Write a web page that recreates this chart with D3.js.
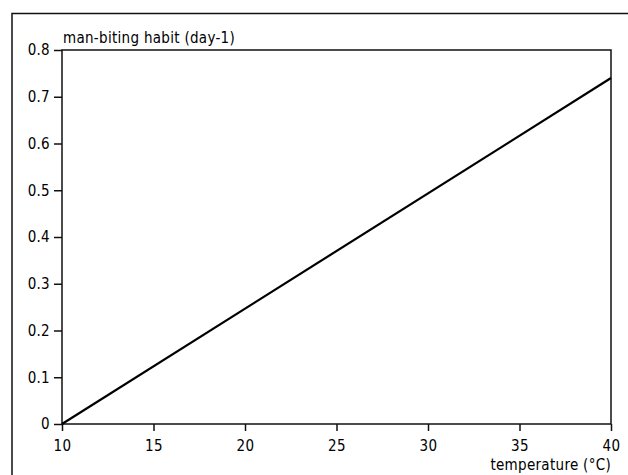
<!DOCTYPE html>
<html>
<head>
<meta charset="utf-8">
<script src="https://cdn.jsdelivr.net/npm/d3@7"></script>
<style>
  body { margin: 0; background: #fff; }
  svg text { font-family: "DejaVu Sans Condensed", "DejaVu Sans", sans-serif; font-stretch: condensed; font-size: 15px; letter-spacing: 0.3px; fill: #000; }
  .axis path { display: none; }
  .axis line { stroke: #111; stroke-width: 1.5px; }
</style>
</head>
<body>
<script>
(function () {

    //chart data
    var temperature = [10, 40];
    var bitingRate = [0, 0.74];
    var xTicks = [10, 15, 20, 25, 30, 35, 40];
    var yTicks = [0, 0.1, 0.2, 0.3, 0.4, 0.5, 0.6, 0.7, 0.8];
    var yTitle = "man-biting habit (day-1)";
    var xTitle = "temperature (°C)";

    var width = 628, height = 475;
    var margin = {left: 62, top: 50, right: 17, bottom: 51};
    var innerWidth = width - margin.left - margin.right,
        innerHeight = height - margin.top - margin.bottom;

    var svg = d3.select("body")
        .append("svg")
        .attr("width", width)
        .attr("height", height);

    //outer frame (left and top edges only)
    svg.append("path")
        .attr("d", "M12,475V13.5H628")
        .attr("fill", "none")
        .attr("stroke", "#111")
        .attr("stroke-width", 1.5);

    var g = svg.append("g")
        .attr("transform", "translate(" + margin.left + "," + margin.top + ")");

    var x = d3.scaleLinear().domain([10, 40]).range([0, innerWidth]);
    var y = d3.scaleLinear().domain([0, 0.8]).range([innerHeight, 0]);

    //axes
    g.append("g")
        .attr("class", "axis")
        .attr("transform", "translate(0," + innerHeight + ")")
        .call(d3.axisBottom(x).tickValues(xTicks).tickSize(7).tickPadding(9).tickFormat(d3.format("d")));

    g.append("g")
        .attr("class", "axis")
        .call(d3.axisLeft(y).tickValues(yTicks).tickSize(8).tickPadding(4).tickFormat(function (d) {
            return d === 0 ? "0" : d3.format(".1f")(d);
        }));

    g.selectAll(".axis text").attr("fill", "#000");

    //plot frame
    g.append("rect")
        .attr("width", innerWidth)
        .attr("height", innerHeight)
        .attr("fill", "none")
        .attr("stroke", "#111")
        .attr("stroke-width", 1.5);

    //the line
    var line = d3.line()
        .x(function (d) { return x(d[0]); })
        .y(function (d) { return y(d[1]); });

    g.append("path")
        .datum(d3.zip(temperature, bitingRate))
        .attr("d", line)
        .attr("fill", "none")
        .attr("stroke", "#000")
        .attr("stroke-width", 2.2);

    //titles
    g.append("text")
        .attr("x", 1)
        .attr("y", -7)
        .text(yTitle);

    g.append("text")
        .attr("x", innerWidth)
        .attr("y", innerHeight + 46)
        .attr("text-anchor", "end")
        .text(xTitle);

})();
</script>
</body>
</html>
